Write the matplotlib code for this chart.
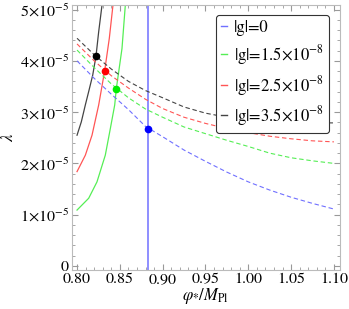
import numpy as np
import matplotlib
matplotlib.use('Agg')
import matplotlib.pyplot as plt
from matplotlib.ticker import MultipleLocator, FixedLocator

plt.rcParams['font.family'] = ['STIXGeneral', 'DejaVu Serif']
plt.rcParams['mathtext.fontset'] = 'stix'

# dashed curves (x in units of M_Pl, lambda in 1e-5)
x_dash = [0.80, 0.82, 0.84, 0.86, 0.88, 0.90, 0.925, 0.95, 0.975, 1.00, 1.025, 1.05, 1.075, 1.10]
lam_dash_g0 = [4.00, 3.66, 3.35, 3.05, 2.72, 2.52, 2.26, 2.04, 1.83, 1.64, 1.48, 1.34, 1.22, 1.11]
lam_dash_g15 = [4.21, 3.87, 3.55, 3.28, 3.06, 2.90, 2.71, 2.58, 2.45, 2.33, 2.20, 2.11, 2.05, 2.00]
lam_dash_g25 = [4.33, 4.00, 3.71, 3.47, 3.25, 3.07, 2.90, 2.78, 2.68, 2.60, 2.53, 2.48, 2.44, 2.42]
lam_dash_g35 = [4.44, 4.12, 3.84, 3.60, 3.42, 3.28, 3.10, 2.98, 2.90, 2.85, 2.82, 2.80, 2.79, 2.79]

# solid curves
x_sol_g15 = [0.800, 0.8136, 0.8233, 0.833, 0.8389, 0.844, 0.8459, 0.8525, 0.8564]
lam_sol_g15 = [1.09, 1.32, 1.64, 2.16, 2.68, 3.14, 3.46, 4.24, 5.09]
x_sol_g25 = [0.800, 0.8097, 0.8175, 0.8253, 0.8323, 0.8377, 0.842]
lam_sol_g25 = [1.84, 2.16, 2.55, 3.14, 3.81, 4.44, 5.09]
x_sol_g35 = [0.800, 0.805, 0.8097, 0.8136, 0.8183, 0.8222, 0.8253, 0.8292]
lam_sol_g35 = [2.55, 2.81, 3.14, 3.40, 3.72, 4.10, 4.57, 5.09]
x_sol_g0 = 0.8832

# intersection points
x_pts = [0.8832, 0.8459, 0.8323, 0.8222]
lam_pts = [2.67, 3.46, 3.81, 4.10]

labels = ['|g|=0', r'|g|=1.5$\times$10$^{-8}$', r'|g|=2.5$\times$10$^{-8}$', r'|g|=3.5$\times$10$^{-8}$']
line_cols = ['#7070ff', '#55ee55', '#ff5555', '#444444']
pt_cols = ['#0000ff', '#00ee00', '#ff0000', '#000000']

s = 1e-5
fig = plt.figure(figsize=(3.49, 3.09), dpi=100)
ax = fig.add_axes([0.206, 0.126, 0.768, 0.858])

dash = (0, (4, 2.5))
ax.axvline(x_sol_g0, ymin=0, ymax=1, color=line_cols[0], lw=1.1)
ax.plot(x_sol_g15, np.array(lam_sol_g15) * s, color=line_cols[1], lw=0.9)
ax.plot(x_sol_g25, np.array(lam_sol_g25) * s, color=line_cols[2], lw=0.9)
ax.plot(x_sol_g35, np.array(lam_sol_g35) * s, color=line_cols[3], lw=0.9)

for lam, c in zip([lam_dash_g0, lam_dash_g15, lam_dash_g25, lam_dash_g35], line_cols):
    ax.plot(x_dash, np.array(lam) * s, color=c, lw=0.8, ls=dash)

for xp, yp, c in zip(x_pts, lam_pts, pt_cols):
    ax.plot(xp, yp * s, 'o', color=c, ms=4.5, zorder=5)

ax.set_xlim(0.794, 1.107)
ax.set_ylim(-0.08e-5, 5.09e-5)

ax.xaxis.set_major_locator(MultipleLocator(0.05))
ax.xaxis.set_minor_locator(MultipleLocator(0.01))
yt = [0, 1e-5, 2e-5, 3e-5, 4e-5, 5e-5]
ax.yaxis.set_major_locator(FixedLocator(yt))
ax.yaxis.set_minor_locator(MultipleLocator(0.2e-5))
ax.set_xticklabels([f'{v:.2f}' for v in ax.get_xticks()])
ax.set_yticklabels(['0'] + [r'%d$\times$10$^{-5}$' % k for k in range(1, 6)])

for sp in ax.spines.values():
    sp.set_color('#bbbbbb')
    sp.set_linewidth(0.8)
ax.tick_params(which='both', direction='in', top=True, right=True, color='#999999',
               labelsize=11.5, pad=2)
ax.tick_params(which='major', length=4)
ax.tick_params(which='minor', length=2)

ax.set_xlabel(r'$\varphi_{*}/M_{\mathrm{Pl}}$', fontsize=12, labelpad=0)
ax.set_ylabel(r'$\lambda$', fontsize=12, labelpad=2)

handles = [plt.Line2D([], [], color=c, lw=1) for c in line_cols]
leg = ax.legend(handles, labels, loc='upper right', fontsize=12, handlelength=0.4,
                handletextpad=0.4, borderpad=0.3, handleheight=0.9, labelspacing=0.4,
                fancybox=True, framealpha=1, edgecolor='#333333',
                bbox_to_anchor=(0.99, 0.995))
leg.get_frame().set_linewidth(0.8)

fig.savefig('out.png', dpi=100)
